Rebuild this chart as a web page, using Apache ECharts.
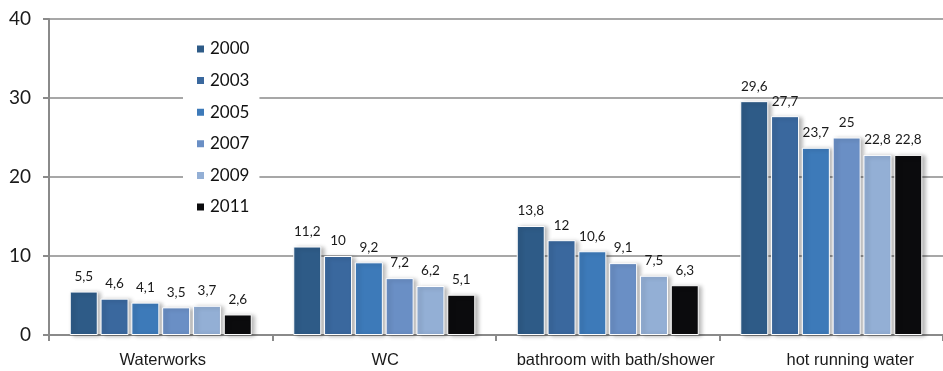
<!DOCTYPE html>
<html>
<head>
<meta charset="utf-8">
<script src="https://cdn.jsdelivr.net/npm/echarts@6/dist/echarts.min.js"></script>
<style>
  html, body { margin: 0; padding: 0; background: #fff; }
  #chart { width: 943px; height: 371px; }
</style>
</head>
<body>
<div id="chart"></div>
<script>
// Household amenities by year (values in %)
const categories = ['Waterworks', 'WC', 'bathroom with bath/shower', 'hot running water'];
const years = ['2000', '2003', '2005', '2007', '2009', '2011'];
const v2000 = [5.5, 11.2, 13.8, 29.6];
const v2003 = [4.6, 10, 12, 27.7];
const v2005 = [4.1, 9.2, 10.6, 23.7];
const v2007 = [3.5, 7.2, 9.1, 25];
const v2009 = [3.7, 6.2, 7.5, 22.8];
const v2011 = [2.6, 5.1, 6.3, 22.8];
const yTicks = [0, 10, 20, 30, 40];

const seriesValues = [v2000, v2003, v2005, v2007, v2009, v2011];
const colors = ['#2e5b87', '#3a689e', '#3d7ab9', '#6a8fc5', '#93afd5', '#0b0b0d'];
// extra left padding on category labels (shifts the last labels rightward)
const labelShift = [4, 2, 16, 38];

const chart = echarts.init(document.getElementById('chart'));

const series = years.map((y, i) => ({
  name: y,
  type: 'bar',
  data: seriesValues[i],
  barWidth: 28,
  barGap: '10%',
  itemStyle: {
    color: colors[i],
    borderColor: '#ffffff',
    borderWidth: 1,
    shadowColor: 'rgba(0,0,0,0.28)',
    shadowBlur: 4,
    shadowOffsetX: 3,
    shadowOffsetY: 1
  },
  label: {
    show: true,
    position: 'top',
    distance: 8,
    color: '#1a1a1a',
    fontFamily: 'Lato',
    fontSize: 13.5,
    formatter: p => String(p.value).replace('.', ',')
  },
  z: 3
}));

chart.setOption({
  animation: false,
  backgroundColor: '#ffffff',
  grid: { left: 49, right: -11, top: 19, bottom: 36, containLabel: false },
  legend: {
    orient: 'vertical',
    left: 183,
    top: 34,
    padding: [6, 10, 6, 12],
    backgroundColor: '#ffffff',
    itemWidth: 9,
    itemHeight: 9,
    itemGap: 13.6,
    icon: 'rect',
    data: years,
    textStyle: { fontFamily: 'Lato', fontSize: 17, color: '#111', lineHeight: 18 },
    z: 10
  },
  xAxis: {
    type: 'category',
    data: categories.map((c, i) => ({ value: c, textStyle: { padding: [0, 0, 0, labelShift[i]] } })),
    axisLine: { show: true, lineStyle: { color: '#8a8a8a', width: 2 } },
    axisTick: { show: true, length: 6, lineStyle: { color: '#8a8a8a', width: 2 } },
    axisLabel: { interval: 0, fontFamily: 'Liberation Sans', fontSize: 16.5, color: '#1a1a1a', margin: 17 }
  },
  yAxis: {
    type: 'value',
    min: yTicks[0],
    max: yTicks[yTicks.length - 1],
    interval: 10,
    axisLine: { show: true, lineStyle: { color: '#8a8a8a', width: 2 } },
    axisTick: { show: true, length: 6, lineStyle: { color: '#8a8a8a', width: 2 } },
    axisLabel: { fontFamily: 'Lato', fontSize: 19, color: '#1a1a1a', margin: 18 },
    splitLine: { show: true, lineStyle: { color: '#8a8a8a', width: 1.5 } }
  },
  series: series
});
</script>
</body>
</html>
